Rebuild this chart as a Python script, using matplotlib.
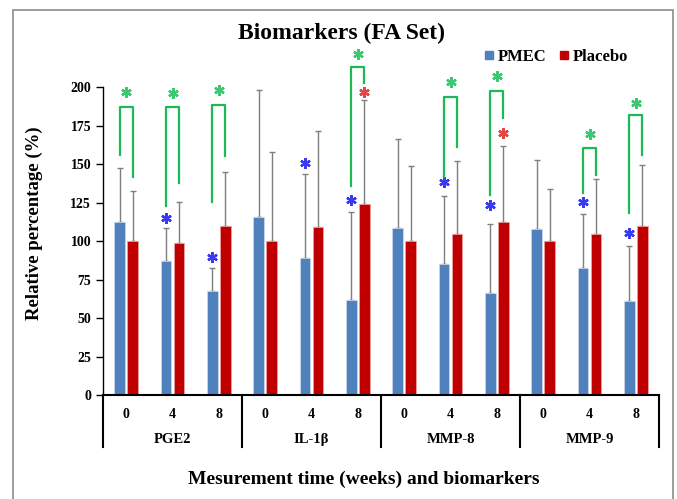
import numpy as np
import matplotlib.pyplot as plt
from matplotlib.lines import Line2D
from matplotlib.patches import Rectangle

plt.rcParams['font.family'] = ['Liberation Serif', 'DejaVu Serif']
plt.rcParams['font.weight'] = 'bold'
plt.rcParams['axes.labelweight'] = 'bold'

weeks = ['0', '4', '8'] * 4
markers = ['PGE2', 'IL-1β', 'MMP-8', 'MMP-9']

pmec = [112.7, 87.1, 67.6, 115.7, 88.9, 61.5, 108.4, 85.4, 66.3, 107.9, 82.4, 60.9]
pmec_err = [35.1, 21.3, 15.2, 82.6, 54.6, 57.3, 57.8, 44.0, 44.9, 44.7, 35.3, 36.2]
placebo = [100, 98.6, 109.9, 100, 109.4, 124.0, 100, 104.9, 112.7, 100, 104.9, 109.9]
placebo_err = [32.8, 27.1, 35.3, 57.8, 62.2, 67.8, 48.9, 47.0, 49.4, 33.9, 35.3, 39.4]

# significance marks (index -> y)
blue_star = {1: 114.9, 2: 89.9, 4: 150.6, 5: 126.8, 7: 138.7, 8: 123.5, 10: 125.7, 11: 105.3}
red_star = {5: 197.2, 8: 170.5}
# index: (top, left bottom, right bottom, star y)
brackets = {0: (187, 156, 141.5, 197.2),
            1: (187, 122.9, 138, 196.6),
            2: (188.5, 125.7, 155.6, 198.3),
            5: (213.5, 135.9, 203, 221.7),
            7: (194, 141.5, 161, 203.7),
            8: (197.7, 130, 179.9, 207.4),
            10: (160.8, 131.5, 143, 169.7),
            11: (182, 118.5, 156, 190)}

blue = '#4F81BD'
red = '#C00000'
green = '#1DB954'

fig = plt.figure(figsize=(6.77, 4.99), dpi=100)
ax = fig.add_axes([103 / 677, 1 - 395 / 499, 556 / 677, 307.7 / 499])

x = np.arange(len(pmec))
w = 0.23
off = 0.14
ax.bar(x - off, pmec, w, color=blue, edgecolor='#c9d6ea', linewidth=0.6, zorder=2)
ax.bar(x + off, placebo, w, color=red, edgecolor='#eea0a0', linewidth=0.6, zorder=2)
ax.errorbar(x - off, pmec, yerr=[np.zeros(12), pmec_err], fmt='none',
            ecolor='#7f7f7f', elinewidth=1, capsize=2.5, capthick=1, zorder=1)
ax.errorbar(x + off, placebo, yerr=[np.zeros(12), placebo_err], fmt='none',
            ecolor='#7f7f7f', elinewidth=1, capsize=2.5, capthick=1, zorder=1)

star = dict(marker=(6, 2, 0), markersize=7.5, markeredgewidth=1.7, linestyle='none', clip_on=False)
for i, y in blue_star.items():
    ax.plot(i - off, y, color='#3A3AF0', **star)
for i, y in red_star.items():
    ax.plot(i + off, y, color='#E04848', **star)
for i, (top, lb, rb, sy) in brackets.items():
    ax.plot([i - off, i - off, i + off, i + off], [lb, top, top, rb],
            color=green, lw=1.6, clip_on=False, zorder=3)
    ax.plot(i, sy, color='#3CC870', **star)

ax.set_xlim(-0.5, 11.5)
ax.set_ylim(0, 200)
ax.set_yticks(np.arange(0, 201, 25))
ax.tick_params(axis='y', labelsize=10, length=5, width=1, direction='out')
ax.set_xticks([])
for s in ['top', 'right']:
    ax.spines[s].set_visible(False)
ax.spines['left'].set_linewidth(1.0)
ax.spines['bottom'].set_linewidth(1.5)

tr = ax.get_xaxis_transform()
for i, lab in enumerate(weeks):
    ax.text(i, -0.062, lab, transform=tr, ha='center', va='center', fontsize=10)
for g, lab in enumerate(markers):
    ax.text(g * 3 + 1, -0.146, lab, transform=tr, ha='center', va='center', fontsize=10.5)
for b in [-0.5, 2.5, 5.5, 8.5, 11.5]:
    ax.plot([b, b], [0, -0.17], transform=tr, color='black', lw=1.5, clip_on=False)

ax.set_ylabel('Relative percentage (%)', fontsize=13.5)
ax.yaxis.set_label_coords(-0.108, 0.56)
fig.text(364 / 677, 1 - 479 / 499, 'Mesurement time (weeks) and biomarkers',
         ha='center', va='center', fontsize=14)
fig.text(342 / 677, 1 - 33 / 499, 'Biomarkers (FA Set)', ha='center', va='center', fontsize=17)

handles = [Line2D([], [], marker='s', color=blue, linestyle='none', markersize=6),
           Line2D([], [], marker='s', color=red, linestyle='none', markersize=6)]
fig.legend(handles, ['PMEC', 'Placebo'], loc='center', bbox_to_anchor=(556 / 677, 1 - 57 / 499),
           ncol=2, frameon=False, fontsize=12, handlelength=0.6, handletextpad=0.2,
           columnspacing=0.8)

fig.patches.append(Rectangle((13 / 677, -0.01), 660 / 677, 1 - 10 / 499 + 0.01,
                             transform=fig.transFigure, fill=False, edgecolor='#8c8c8c', lw=1.2))

fig.savefig('out.png', dpi=100)
